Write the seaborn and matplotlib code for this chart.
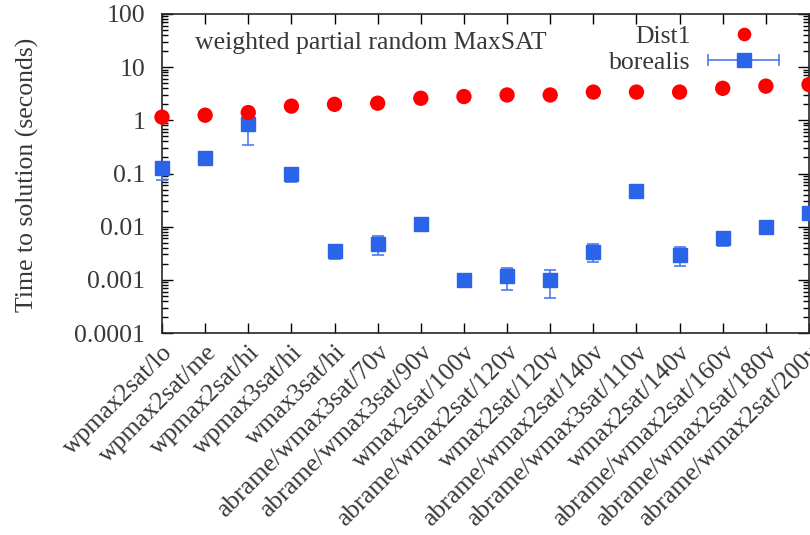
import numpy as np
import pandas as pd
import matplotlib
matplotlib.use("Agg")
import matplotlib.pyplot as plt
import seaborn as sns
from matplotlib.lines import Line2D
from matplotlib.legend_handler import HandlerLine2D, HandlerTuple

categories = ["wpmax2sat/lo", "wpmax2sat/me", "wpmax2sat/hi", "wpmax3sat/hi",
              "wmax3sat/hi", "abrame/wmax3sat/70v", "abrame/wmax3sat/90v",
              "wmax2sat/100v", "abrame/wmax2sat/120v", "wmax2sat/120v",
              "abrame/wmax2sat/140v", "abrame/wmax3sat/110v", "wmax2sat/140v",
              "abrame/wmax2sat/160v", "abrame/wmax2sat/180v", "abrame/wmax2sat/200v"]
dist1 = [1.15, 1.25, 1.4, 1.85, 2.0, 2.1, 2.6, 2.8, 3.0, 3.0, 3.4, 3.4, 3.4, 4.0, 4.4, 4.7]
borealis = [0.126, 0.195, 0.85, 0.098, 0.0035, 0.0047, 0.0113, 0.001, 0.00118, 0.001,
            0.0033, 0.047, 0.0029, 0.0062, 0.0098, 0.018]
borealis_lo = [0.075, 0.195, 0.34, 0.068, 0.0025, 0.0029, 0.0113, 0.001, 0.00065, 0.00046,
               0.0022, 0.047, 0.0018, 0.0044, 0.0098, 0.018]
borealis_hi = [0.126, 0.195, 1.4, 0.098, 0.0035, 0.0068, 0.0113, 0.001, 0.0017, 0.0015,
               0.0047, 0.047, 0.0042, 0.0062, 0.0098, 0.018]

sns.set_style("ticks")
plt.rcParams['font.family'] = ['Liberation Serif', 'DejaVu Serif']
FS = 18.5
TXT = "#383838"

fig = plt.figure(figsize=(8.1, 5.35), dpi=100)
ax = fig.add_axes([162/810, 1 - 333/535, (809 - 162)/810, (333 - 14)/535])

x = np.arange(len(categories))
df = pd.DataFrame({"x": x, "Dist1": dist1})

red = "#ff0000"
blue = "#2a64e8"
eblue = "#4a7cf0"

sns.scatterplot(data=df, x="x", y="Dist1", ax=ax, color=red, s=122, marker="o",
                edgecolor="none", zorder=4, clip_on=False, legend=False)

b = np.array(borealis)
yerr = np.vstack([b - np.array(borealis_lo), np.array(borealis_hi) - b])
ax.errorbar(x, b, yerr=yerr, fmt="s", color=blue, ms=10, mec=blue,
            ecolor=eblue, elinewidth=1.2, capsize=4, capthick=1.2,
            zorder=3, clip_on=False)

ax.set_yscale("log")
ax.set_ylim(1e-4, 100)
ax.set_xlim(0, 15)
ax.set_yticks([1e-4, 1e-3, 1e-2, 1e-1, 1, 10, 100])
ax.set_yticklabels(["0.0001", "0.001", "0.01", "0.1", "1", "10", "100"], fontsize=FS)
ax.set_xticks(x)
ax.set_xticklabels(categories, rotation=45, ha="right", rotation_mode="anchor", fontsize=FS)
ax.tick_params(axis="both", which="both", direction="in", top=True, right=True,
               colors="black", labelcolor=TXT)
ax.tick_params(axis="y", which="major", length=8, width=1, pad=12)
ax.tick_params(axis="y", which="minor", length=4, width=1)
ax.tick_params(axis="x", which="major", length=7, width=1, pad=6)
ax.set_xlabel("")
ax.set_ylabel("Time to solution (seconds)", fontsize=FS, color=TXT)
ax.yaxis.set_label_coords(-0.19, 0.495)
for s in ax.spines.values():
    s.set_linewidth(1.2)
    s.set_visible(True)

ax.text(0.051, 0.89, "weighted partial random MaxSAT", transform=ax.transAxes,
        fontsize=FS, color=TXT, va="baseline", ha="left")

h1 = Line2D([], [], color=red, marker="o", ms=9.8, ls="none", mec="none")
cap_line = Line2D([], [], color=eblue, lw=1.2, marker="|", ms=9, mew=1.2)
sq = Line2D([], [], color=blue, marker="s", ms=10, ls="none")
leg = ax.legend([h1, (cap_line, sq)], ["Dist1", "borealis"],
                handler_map={cap_line: HandlerLine2D(numpoints=2),
                             sq: HandlerLine2D(numpoints=1),
                             tuple: HandlerTuple(ndivide=1, pad=0)},
                loc="upper right", bbox_to_anchor=(0.966, 0.964), frameon=False,
                markerfirst=False, fontsize=FS, handlelength=3.36, labelspacing=0.1,
                borderpad=0, handletextpad=0.4, borderaxespad=0)
for t in leg.get_texts():
    t.set_color(TXT)

fig.savefig("out.png", dpi=100)
